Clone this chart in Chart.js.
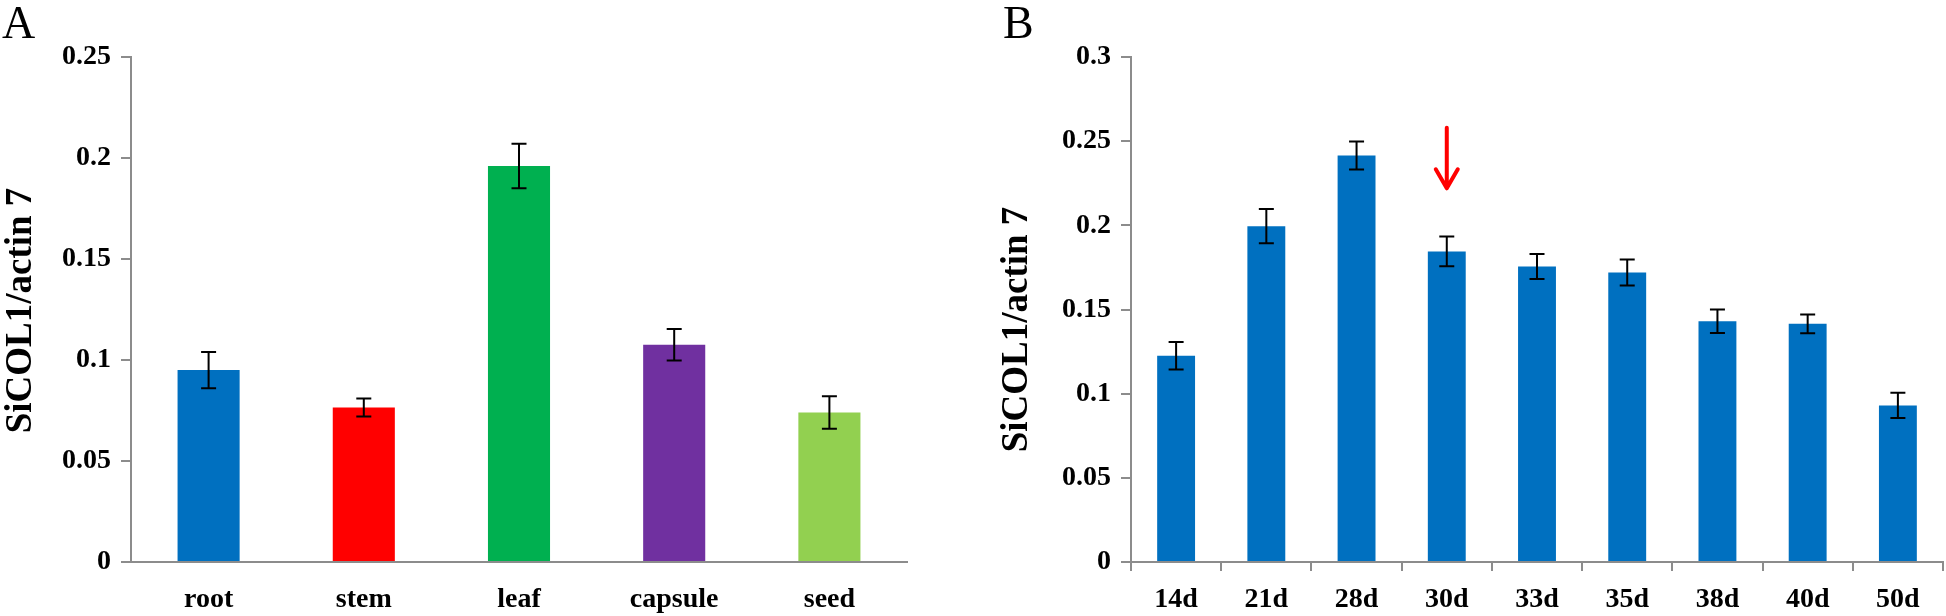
<!DOCTYPE html>
<html>
<head>
<meta charset="utf-8">
<script src="https://cdn.jsdelivr.net/npm/chart.js@4/dist/chart.umd.min.js"></script>
<style>
    body { margin: 0; background: #fff; }
    #wrap { position: relative; width: 1946px; height: 616px; overflow: hidden; }
    .panel { position: absolute; top: 0; }
    .tag {
        position: absolute; top: 0;
        font-family: 'Liberation Serif', 'Times New Roman', serif;
        font-size: 46px; line-height: 46px; color: #000;
    }
</style>
</head>
<body>
<div id="wrap">
    <canvas id="chartA" class="panel" width="970" height="616" style="left:0"></canvas>
    <canvas id="chartB" class="panel" width="976" height="616" style="left:970px"></canvas>
    <div class="tag" style="left:2px">A</div>
    <div class="tag" style="left:1003px">B</div>
</div>
<script>
// Panel A - tissus
const tissues = ['root', 'stem', 'leaf', 'capsule', 'seed'];
const tissueValues = [0.095, 0.0765, 0.196, 0.1075, 0.074];
const tissueErrors = [0.009, 0.0045, 0.011, 0.0078, 0.008];
const tissueColors = ['#0070C0', '#FF0000', '#00B050', '#7030A0', '#92D050'];
const yTicksA = ['0', '0.05', '0.1', '0.15', '0.2', '0.25'];

// Panel B - stades
const stages = ['14d', '21d', '28d', '30d', '33d', '35d', '38d', '40d', '50d'];
const stageValues = [0.1225, 0.1995, 0.2415, 0.1845, 0.1755, 0.172, 0.143, 0.1415, 0.093];
const stageErrors = [0.0082, 0.0102, 0.0083, 0.0088, 0.0074, 0.0077, 0.007, 0.0056, 0.0075];
const yTicksB = ['0', '0.05', '0.1', '0.15', '0.2', '0.25', '0.3'];

// Flèche rouge au-dessus de 30d
const arrowIndex = 3;
const arrowFrom = 0.258;
const arrowTo = 0.222;

const yTitle = 'SiCOL1/actin 7';

const serif = "'Liberation Serif', 'Times New Roman', serif";
const axisGrey = '#8c8c8c';

const errorBars = {
    id: 'errorBars',
    afterDatasetsDraw(chart, args, opts) {
        const ctx = chart.ctx;
        const meta = chart.getDatasetMeta(0);
        const y = chart.scales.y;
        ctx.save();
        ctx.strokeStyle = '#000';
        ctx.lineWidth = 2;
        meta.data.forEach((bar, i) => {
            const v = chart.data.datasets[0].data[i];
            const e = opts.errors[i];
            const top = y.getPixelForValue(v + e);
            const bot = y.getPixelForValue(v - e);
            ctx.beginPath();
            ctx.moveTo(bar.x, top); ctx.lineTo(bar.x, bot);
            ctx.moveTo(bar.x - 7.5, top); ctx.lineTo(bar.x + 7.5, top);
            ctx.moveTo(bar.x - 7.5, bot); ctx.lineTo(bar.x + 7.5, bot);
            ctx.stroke();
        });
        ctx.restore();
    }
};

const arrowPlugin = {
    id: 'arrowMark',
    afterDatasetsDraw(chart, args, opts) {
        if (!opts.show) return;
        const ctx = chart.ctx;
        const bar = chart.getDatasetMeta(0).data[opts.index];
        const y1 = chart.scales.y.getPixelForValue(opts.from);
        const y2 = chart.scales.y.getPixelForValue(opts.to);
        ctx.save();
        ctx.strokeStyle = '#FF0000';
        ctx.lineWidth = 4;
        ctx.lineCap = 'round';
        ctx.lineJoin = 'round';
        ctx.beginPath();
        ctx.moveTo(bar.x, y1); ctx.lineTo(bar.x, y2 - 2);
        ctx.moveTo(bar.x - 11, y2 - 19); ctx.lineTo(bar.x, y2); ctx.lineTo(bar.x + 11, y2 - 19);
        ctx.stroke();
        ctx.restore();
    }
};

// Titre de l'axe Y (dessiné à la main pour pouvoir le décaler)
const yTitlePlugin = {
    id: 'yTitle',
    afterDraw(chart, args, opts) {
        const ctx = chart.ctx;
        const area = chart.chartArea;
        ctx.save();
        ctx.translate(opts.x, (area.top + area.bottom) / 2 + opts.dy);
        ctx.rotate(-Math.PI / 2);
        ctx.font = 'bold 37px ' + serif;
        ctx.fillStyle = '#000';
        ctx.textAlign = 'center';
        ctx.textBaseline = 'middle';
        ctx.fillText(opts.text, 0, 0);
        ctx.restore();
    }
};

function makeChart(id, labels, values, errors, colors, yMax, yLabels, yWidth, rightPad, xTicks, barPct, arrow, title) {
    return new Chart(document.getElementById(id), {
        type: 'bar',
        data: {
            labels: labels,
            datasets: [{
                data: values,
                backgroundColor: colors,
                borderWidth: 0,
                barPercentage: barPct,
                categoryPercentage: 1
            }]
        },
        options: {
            responsive: false,
            animation: false,
            layout: { padding: { top: 57, right: rightPad, left: 0, bottom: 0 } },
            plugins: {
                legend: { display: false },
                tooltip: { enabled: false },
                errorBars: { errors: errors },
                arrowMark: arrow,
                yTitle: title
            },
            scales: {
                x: {
                    afterFit(s) { s.height = 54; },
                    grid: {
                        display: xTicks,
                        drawOnChartArea: false,
                        drawTicks: xTicks,
                        tickLength: 9,
                        color: axisGrey,
                        lineWidth: 2,
                        offset: true
                    },
                    border: { color: axisGrey, width: 2 },
                    ticks: {
                        color: '#000',
                        padding: xTicks ? 12 : 21,
                        font: { family: serif, size: 28, weight: 'bold' }
                    }
                },
                y: {
                    min: 0,
                    max: yMax,
                    afterFit(s) { s.width = yWidth; },
                    grid: {
                        drawOnChartArea: false,
                        tickLength: 10,
                        color: axisGrey,
                        lineWidth: 2
                    },
                    border: { color: axisGrey, width: 2 },
                    ticks: {
                        stepSize: 0.05,
                        color: '#000',
                        padding: 10,
                        font: { family: serif, size: 28, weight: 'bold' },
                        callback: (v, i) => yLabels[i]
                    }
                }
            }
        },
        plugins: [errorBars, arrowPlugin, yTitlePlugin]
    });
}

document.addEventListener('DOMContentLoaded', function () {
    makeChart('chartA', tissues, tissueValues, tissueErrors, tissueColors,
        0.25, yTicksA, 131, 63, false, 0.4, { show: false },
        { text: yTitle, x: 21, dy: 1 });
    makeChart('chartB', stages, stageValues, stageErrors, '#0070C0',
        0.3, yTicksB, 161, 3, true, 0.42,
        { show: true, index: arrowIndex, from: arrowFrom, to: arrowTo },
        { text: yTitle, x: 47, dy: 20 });
});
</script>
</body>
</html>
